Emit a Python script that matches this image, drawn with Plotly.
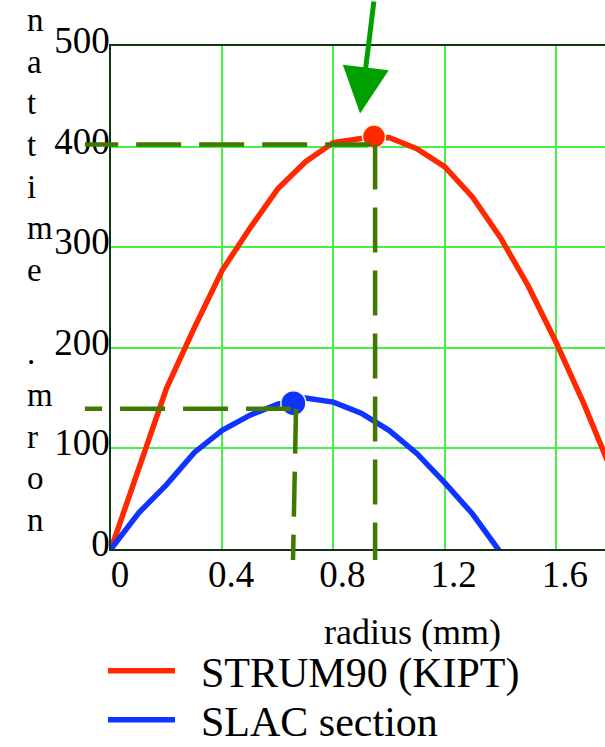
import plotly.graph_objects as go

# ---- data -------------------------------------------------------------
radius_strum = [0.0, 0.1, 0.2, 0.3, 0.4, 0.5, 0.6, 0.7, 0.8, 0.9, 1.0,
                1.1, 1.2, 1.3, 1.4, 1.5, 1.6, 1.7, 1.8]
emit_strum = [0, 82, 160, 220, 277, 319, 358, 385, 404, 408, 409,
              398, 380, 350, 310, 262, 206, 145, 78]

radius_slac = [0.0, 0.1, 0.2, 0.3, 0.4, 0.5, 0.6, 0.7, 0.8, 0.9, 1.0,
               1.1, 1.2, 1.3, 1.4]
emit_slac = [0, 36, 64, 96, 118, 133, 144, 150, 146, 135, 118,
             95, 66, 35, -3]

# maxima markers (radius, emittance)
peak_strum = (0.946, 410)
peak_slac = (0.656, 145)

# guide lines from each maximum to the axes
guide_strum = {"x_top": 0.95, "x_bot": 0.95, "level": 402}
guide_slac = {"x_top": 0.6655, "x_bot": 0.6547, "level": 139.5}
guide_x_left = -0.094     # where the horizontal guides stop
guide_y_bottom = -11      # where the vertical guides stop

x_ticks = [0, 0.4, 0.8, 1.2, 1.6]
x_tick_text = ["0", "0.4", "0.8", "1.2", "1.6"]
y_ticks = [0, 100, 200, 300, 400, 500]
y_tick_text = ["0", "100", "200", "300", "400", "500"]

names = ["STRUM90 (KIPT)", "SLAC section"]
y_label = "norm. emittan"
x_label = "radius (mm)"

X_RANGE = [0, 1.777]
Y_RANGE = [0, 500]

# ---- style --------------------------------------------------------------
RED = "rgb(255,40,0)"
BLUE = "rgb(16,52,255)"
GUIDE = "rgb(64,120,0)"
ARROW = "rgb(0,160,0)"
GRID = "rgb(70,240,70)"
AXIS = "rgb(20,50,20)"
HALO = "rgb(255,246,200)"
SERIF = "Liberation Serif"

W, H = 605, 747
ML, MT, MB, MR = 111, 46, 198, 0
PW, PH = W - ML - MR, H - MT - MB


def xd(v):
    return (v - X_RANGE[0]) / (X_RANGE[1] - X_RANGE[0])


def yd(v):
    return (v - Y_RANGE[0]) / (Y_RANGE[1] - Y_RANGE[0])


def px_x(p):
    return (p - ML) / PW


def px_y(p):
    return (H - MB - p) / PH


fig = go.Figure()

# legend entries carry a leading en space to open the gap after the swatch
fig.add_trace(go.Scatter(
    x=radius_strum, y=emit_strum, mode="lines", name="\u2002" + names[0],
    line=dict(color=RED, width=5.5), legend="legend"))
fig.add_trace(go.Scatter(
    x=radius_slac, y=emit_slac, mode="lines", name="\u2002" + names[1],
    line=dict(color=BLUE, width=5.5), legend="legend2"))

fig.add_trace(go.Scatter(
    x=[peak_strum[0]], y=[peak_strum[1]], mode="markers", showlegend=False,
    marker=dict(size=23, color=RED, line=dict(color=HALO, width=1.5))))
fig.add_trace(go.Scatter(
    x=[peak_slac[0]], y=[peak_slac[1]], mode="markers", showlegend=False,
    marker=dict(size=25, color=BLUE, line=dict(color=HALO, width=1.5))))

# dashed guides, drawn outward from each maximum
for g in (guide_strum, guide_slac):
    common = dict(type="line", xref="x domain", yref="y domain",
                  line=dict(color=GUIDE, width=4.5, dash="45px,18px"),
                  layer="above")
    fig.add_shape(x0=xd(g["x_top"]) - 0.01, y0=yd(g["level"]),
                  x1=xd(guide_x_left), y1=yd(g["level"]), **common)
    fig.add_shape(x0=xd(g["x_top"]), y0=yd(g["level"]),
                  x1=xd(g["x_bot"]), y1=yd(guide_y_bottom), **common)

# arrow pointing at the STRUM90 maximum
fig.add_annotation(
    x=0.896, y=433, xref="x", yref="y", text="", showarrow=True,
    ax=14, ay=-120, arrowhead=2, arrowsize=1.85, arrowwidth=5,
    arrowcolor=ARROW, standoff=0)

# stacked letters of the vertical axis label (read bottom to top)
FS_LETTER = 33
for i, ch in enumerate(y_label):
    if ch == " ":
        continue
    base = 530 - i * 41.67
    fig.add_annotation(
        x=px_x(25), y=px_y(base - 0.3 * FS_LETTER), xref="paper", yref="paper",
        text=ch, showarrow=False, xanchor="left", yanchor="middle",
        font=dict(family=SERIF, size=FS_LETTER, color="black"))

# horizontal axis label
fig.add_annotation(
    x=px_x(412), y=px_y(632), xref="paper", yref="paper", text=x_label,
    showarrow=False, xanchor="center", yanchor="middle",
    font=dict(family=SERIF, size=36, color="black"))

axis_common = dict(
    showgrid=True, gridcolor=GRID, gridwidth=1.5, zeroline=False,
    showline=True, linecolor=AXIS, linewidth=1.5, ticks="",
    tickfont=dict(family=SERIF, size=37, color="black"))

fig.update_xaxes(range=X_RANGE, tickvals=x_ticks, ticktext=x_tick_text,
                 mirror=True, ticklabelshift=9, ticklabelstandoff=-8,
                 **axis_common)
fig.update_yaxes(range=Y_RANGE, tickvals=y_ticks, ticktext=y_tick_text,
                 ticklabelshift=-6, ticklabelstandoff=-8, **axis_common)

legend_common = dict(
    xanchor="left", yanchor="middle", bgcolor="rgba(0,0,0,0)",
    borderwidth=0, itemwidth=67,
    font=dict(family=SERIF, size=42, color="black"))

fig.update_layout(
    width=W, height=H,
    margin=dict(l=ML, r=MR, t=MT, b=MB, autoexpand=False),
    paper_bgcolor="white", plot_bgcolor="white",
    showlegend=True,
    legend=dict(x=px_x(103), y=px_y(671), **legend_common),
    legend2=dict(x=px_x(103), y=px_y(720), **legend_common),
)

fig.write_html("out.html")
